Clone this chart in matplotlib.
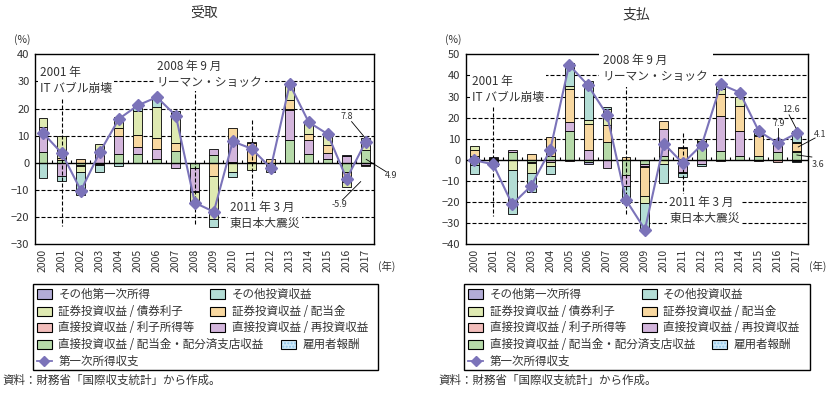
import numpy as np
import matplotlib
matplotlib.use("Agg")
import matplotlib.pyplot as plt
from matplotlib.patches import Rectangle
from matplotlib.lines import Line2D

plt.rcParams['font.family'] = ['Noto Sans CJK JP', 'DejaVu Sans']

years = [str(y) for y in range(2000, 2018)]

# legend labels / colours (stacking order: green, lilac, pink, orange, yg, teal, other, comp)
lab_fdi_div = '直接投資収益 / 配当金・配分済支店収益'
lab_fdi_reinv = '直接投資収益 / 再投資収益'
lab_fdi_int = '直接投資収益 / 利子所得等'
lab_port_div = '証券投資収益 / 配当金'
lab_port_bond = '証券投資収益 / 債券利子'
lab_other_inv = 'その他投資収益'
lab_other_primary = 'その他第一次所得'
lab_comp = '雇用者報酬'
lab_line = '第一次所得収支'

col_fdi_div = '#b6daa9'
col_fdi_reinv = '#d3b5dc'
col_fdi_int = '#f2bdbb'
col_port_div = '#f8d8a0'
col_port_bond = '#dfeab2'
col_other_inv = '#b3ddd5'
col_other_primary = '#b2acd6'
col_comp = '#cfe9f9'
col_line = '#7b73b9'

# 受取 (receipts), contribution in % points
rec_fdi_div = [4.0, 0.9, -0.7, -0.3, 3.3, 3.4, 1.5, 4.3, -2.0, 3.0, 0.4, 0.4, 0, 8.3, 3.4, 1.5, -3.3, 4.9]
rec_fdi_reinv = [9.2, -5.0, 0, 4.3, 6.7, 2.6, 3.7, -2.0, -8.2, 2.2, 7.6, 0, 0, 11.2, 5.2, 2.2, 2.7, -0.7]
rec_fdi_int = [0, 0.3, -0.4, -0.4, 0, 0, 0, 0, -0.4, 0, 0, 0, 0, 0.3, 0, 0, 0, -0.4]
rec_port_div = [0, 0.5, 1.5, 0, 2.7, 4.4, 4.1, 3.1, 0, -5.0, 5.0, 6.9, 1.5, 3.2, 2.1, 3.0, -3.8, 0]
rec_port_bond = [3.4, 8.1, -2.2, 2.7, 4.2, 8.6, 11.4, 11.0, -3.4, -15.6, -3.2, -2.5, -3.2, 6.3, 4.6, 4.0, -1.8, 2.0]
rec_other_inv = [-5.7, -1.5, -8.5, -2.6, -1.2, 2.1, 3.6, 0.7, -0.7, -3.1, -2.1, 0, 0, 0, 0, 0, 0, 2.1]
rec_other_primary = [0, 0, 0, 0, 0, 0, 0, 0, 0, 0, 0, 0.4, 0, 0, 0, 0, 0.3, 0]
rec_comp = [0] * 18
rec_total = [11.0, 3.5, -10.2, 4.0, 16.2, 21.2, 24.2, 17.4, -14.7, -18.0, 7.9, 5.2, -1.9, 29.0, 15.0, 10.6, -5.9, 7.8]

# 支払 (payments)
pay_fdi_div = [-2.5, -0.5, 3.8, -1.0, 2.0, 13.6, -1.0, 8.6, -7.0, -2.1, 2.0, 0.3, 8.3, 4.4, 2.0, 2.0, 3.6, 3.6]
pay_fdi_reinv = [1.6, 0.3, 0.8, 0, -1.0, 4.2, 4.9, -3.7, -5.4, -1.0, 12.7, -5.8, -2.0, 16.6, 11.5, 0, 5.5, 0]
pay_fdi_int = [0, 0.3, 0, -0.5, 0, -0.4, 0, 0, 0, -0.5, 0, -0.5, 0, -0.4, 0.4, -0.7, -0.8, 0.4]
pay_port_div = [3.3, 0.3, 0, 3.0, 9.0, 15.7, 11.9, 7.9, 1.5, -13.5, 3.9, 5.4, 0.6, 10.0, 11.4, 9.3, 0, 4.1]
pay_port_bond = [1.5, -0.6, -5.0, -4.8, -2.0, 1.7, 2.0, 7.8, 0, -3.3, -2.0, 0, 0.8, 2.6, 4.7, 0.7, 0, 0.4]
pay_other_inv = [-4.0, -1.0, -20.8, -9.1, -3.5, 10.5, 18.4, 0.6, -8.1, -12.8, -9.0, -1.6, -0.8, 3.0, 0, 2.4, 0, 5.2]
pay_other_primary = [0, 0.3, 0, 0, 0, 0, -0.8, 0, 0, 0, 0, 0.5, 0, 0, 0, 0, 0, -0.5]
pay_comp = [0, -0.6, 0, 0, 0, 0, 0, 0, 0, 0, 0, 0, 0, 0, 0, 0, 0, -0.4]
pay_total = [-0.2, -2.1, -21.1, -12.3, 4.5, 45.0, 35.3, 21.3, -19.0, -33.0, 7.7, -1.7, 7.2, 35.8, 31.9, 13.6, 7.9, 12.6]

stack_cols = [col_fdi_div, col_fdi_reinv, col_fdi_int, col_port_div, col_port_bond,
              col_other_inv, col_other_primary, col_comp]

W, H = 834, 393
fig = plt.figure(figsize=(W / 100, H / 100), dpi=100)

txt_col = '#333333'


def px(x, y):
    # pixel -> figure fraction
    return x / W, 1 - y / H


def dash_line(ax, xs, ys):
    ax.plot(xs, ys, color='black', lw=0.8, ls=(0, (3.6, 1.8)), zorder=2.6)


def draw_panel(rect, series, total, ylim, xlim, tick_h):
    ax = fig.add_axes(rect)
    x = np.arange(len(years))
    pos = np.zeros(len(years))
    neg = np.zeros(len(years))
    for vals, c in zip(series, stack_cols):
        v = np.array(vals, dtype=float)
        for sign in (1, -1):
            m = (v * sign) > 0
            if not m.any():
                continue
            base = pos if sign > 0 else neg
            ax.bar(x[m], v[m], bottom=base[m], width=0.47, color=c,
                   edgecolor='black', lw=0.6, zorder=2)
            base[m] += v[m]
    # gridlines
    for g in range(ylim[0] + 10, ylim[1], 10):
        if g == 0:
            continue
        ax.axhline(g, color='black', lw=0.8, ls=(0, (3.6, 1.8)), zorder=1)
    ax.axhline(0, color='black', lw=1.0, zorder=2.2)
    ax.vlines(x[:-1] + 0.5, 0, tick_h, color='black', lw=0.8, zorder=2.2)
    ax.plot(x, total, color=col_line, lw=1.5, marker='D', ms=6,
            markeredgecolor=col_line, zorder=4)
    ax.set_xlim(*xlim)
    ax.set_ylim(*ylim)
    ax.set_yticks(range(ylim[0], ylim[1] + 1, 10))
    ax.set_xticks(x)
    ax.set_xticklabels(years, rotation=90, fontsize=7.5)
    ax.tick_params(axis='both', length=0, labelcolor=txt_col)
    ax.tick_params(axis='y', pad=4, labelsize=8)
    ax.tick_params(axis='x', pad=3, labelsize=7.5)
    for s in ax.spines.values():
        s.set_linewidth(1.0)
        s.set_zorder(3)
    return ax


bbox_w = dict(facecolor='white', edgecolor='none', pad=1.5)
tfs = 8.5
nfs = 6.5

# ---- 受取 ----
axL = draw_panel([35 / W, 1 - 244.3 / H, 339 / W, 190 / H],
                 [rec_fdi_div, rec_fdi_reinv, rec_fdi_int, rec_port_div, rec_port_bond,
                  rec_other_inv, rec_other_primary, rec_comp],
                 rec_total, (-30, 40), (-0.42, 17.44), 1.0)
dash_line(axL, [1, 1], [23.7, -23.3])
dash_line(axL, [8, 8], [27.7, -23.3])
dash_line(axL, [11, 11], [15.7, -13.7])
axL.text(-0.16, 30.3, '2001 年\nIT バブル崩壊', fontsize=tfs, ha='left', va='center',
         linespacing=1.3, bbox=bbox_w, zorder=5, color=txt_col)
axL.text(6.0, 32.6, '2008 年 9 月\nリーマン・ショック', fontsize=tfs, ha='left', va='center',
         linespacing=1.3, bbox=bbox_w, zorder=5, color=txt_col)
axL.text(9.84, -19.3, '2011 年 3 月\n東日本大震災', fontsize=tfs, ha='left', va='center',
         linespacing=1.3, bbox=bbox_w, zorder=5, color=txt_col)
axL.text(16.0, 17.0, '7.8', fontsize=nfs, ha='center', va='center', color=txt_col)
axL.plot([16.26, 16.95], [15.2, 9.4], color='black', lw=0.6, zorder=5)
axL.text(18.35, -4.5, '4.9', fontsize=nfs, ha='center', va='center', clip_on=False,
         color=txt_col)
axL.plot([17.03, 18.09], [1.3, -3.3], color='black', lw=0.6, zorder=5, clip_on=False)
axL.text(15.63, -15.5, '-5.9', fontsize=nfs, ha='center', va='center', color=txt_col)
axL.plot([15.77, 16.74], [-13.7, -6.9], color='black', lw=0.6, zorder=5)

# ---- 支払 ----
axR = draw_panel([465.7 / W, 1 - 244.3 / H, 342 / W, 190 / H],
                 [pay_fdi_div, pay_fdi_reinv, pay_fdi_int, pay_port_div, pay_port_bond,
                  pay_other_inv, pay_other_primary, pay_comp],
                 pay_total, (-40, 50), (-0.45, 17.58), 1.3)
dash_line(axR, [1, 1], [24.9, -26.6])
dash_line(axR, [8, 8], [35.8, -26.6])
dash_line(axR, [11, 11], [12.6, -16.6])
axR.text(-0.13, 33.5, '2001 年\nIT バブル崩壊', fontsize=tfs, ha='left', va='center',
         linespacing=1.3, bbox=bbox_w, zorder=5, color=txt_col)
axR.text(6.78, 43.3, '2008 年 9 月\nリーマン・ショック', fontsize=tfs, ha='left', va='center',
         linespacing=1.3, bbox=dict(facecolor='white', edgecolor='none', pad=3),
         zorder=5, color=txt_col, clip_on=False)
axR.text(10.29, -24.0, '2011 年 3 月\n東日本大震災', fontsize=tfs, ha='left', va='center',
         linespacing=1.3, bbox=bbox_w, zorder=5, color=txt_col)
axR.text(16.69, 23.95, '12.6', fontsize=nfs, ha='center', va='center', color=txt_col)
axR.plot([16.60, 16.96], [21.3, 15.1], color='black', lw=0.6, zorder=5)
axR.text(16.04, 17.0, '7.9', fontsize=nfs, ha='center', va='center', color=txt_col)
axR.plot([16.04, 16.04], [15.2, 9.5], color='black', lw=0.6, zorder=5)
axR.text(18.24, 11.8, '4.1', fontsize=nfs, ha='center', va='center', clip_on=False,
         color=txt_col)
axR.plot([17.97, 17.08], [10.35, 6.1], color='black', lw=0.6, zorder=5, clip_on=False)
axR.text(18.12, -2.0, '3.6', fontsize=nfs, ha='center', va='center', clip_on=False,
         color=txt_col)
axR.plot([17.8, 17.01], [1.35, 2.3], color='black', lw=0.6, zorder=5, clip_on=False)

# titles, units
for cx, t in [(204.5, '受取'), (636.7, '支払')]:
    fig.text(*px(cx, 14), t, fontsize=10, ha='center', va='center', color=txt_col)
fig.text(*px(22, 40), '(%)', fontsize=7.5, ha='center', va='center', color=txt_col)
fig.text(*px(453, 40), '(%)', fontsize=7.5, ha='center', va='center', color=txt_col)
fig.text(*px(386.7, 266.7), '(年)', fontsize=7.5, ha='center', va='center', color=txt_col)
fig.text(*px(818, 266.7), '(年)', fontsize=7.5, ha='center', va='center', color=txt_col)

# ---- legends (manual layout) ----
legend_rows = [
    [(lab_other_primary, col_other_primary, 0), (lab_other_inv, col_other_inv, 1)],
    [(lab_port_bond, col_port_bond, 0), (lab_port_div, col_port_div, 1)],
    [(lab_fdi_int, col_fdi_int, 0), (lab_fdi_reinv, col_fdi_reinv, 1)],
    [(lab_fdi_div, col_fdi_div, 0), (lab_comp, col_comp, 2)],
]
row_y = [294, 311.7, 327.7, 344.3, 361]
col_x = [36.7, 210, 280.7]
lfs = 8.3


def draw_legend(off, cap_x):
    x0, y0 = px(32.7 + off, 370)
    x1, y1 = px(378.3 + off, 284)
    fig.patches.append(Rectangle((x0, y0), x1 - x0, y1 - y0, transform=fig.transFigure,
                                 facecolor='none', edgecolor='black', lw=1.0))
    for r, row in enumerate(legend_rows):
        for lab, col, c in row:
            bx, by = px(col_x[c] + off, row_y[r] + 4.6)
            bw, bh = 15 / W, 9.3 / H
            if lab == lab_comp:
                fig.patches.append(Rectangle((bx, by), bw, bh, transform=fig.transFigure,
                                             facecolor=col, edgecolor='#8cc4e8', lw=0,
                                             hatch='.....'))
                fig.patches.append(Rectangle((bx, by), bw, bh, transform=fig.transFigure,
                                             facecolor='none', edgecolor='black', lw=0.8))
            else:
                fig.patches.append(Rectangle((bx, by), bw, bh, transform=fig.transFigure,
                                             facecolor=col, edgecolor='black', lw=0.8))
            fig.text(*px(col_x[c] + off + 21.6, row_y[r]), lab, fontsize=lfs,
                     ha='left', va='center', color=txt_col)
    lx = [px(36.7 + off, 0)[0], px(51.7 + off, 0)[0]]
    ly = px(0, row_y[4])[1]
    fig.lines.append(Line2D(lx, [ly, ly], transform=fig.transFigure, color=col_line, lw=1.3))
    fig.lines.append(Line2D([sum(lx) / 2], [ly], transform=fig.transFigure, color=col_line,
                            marker='D', ms=5, lw=0))
    fig.text(*px(58.3 + off, row_y[4]), lab_line, fontsize=lfs, ha='left', va='center',
             color=txt_col)
    fig.text(*px(cap_x, 380.5), '資料：財務省「国際収支統計」から作成。', fontsize=8.3,
             ha='left', va='center', color=txt_col)


draw_legend(0, 2)
draw_legend(431.5, 438)

fig.savefig('out.png', dpi=100)
